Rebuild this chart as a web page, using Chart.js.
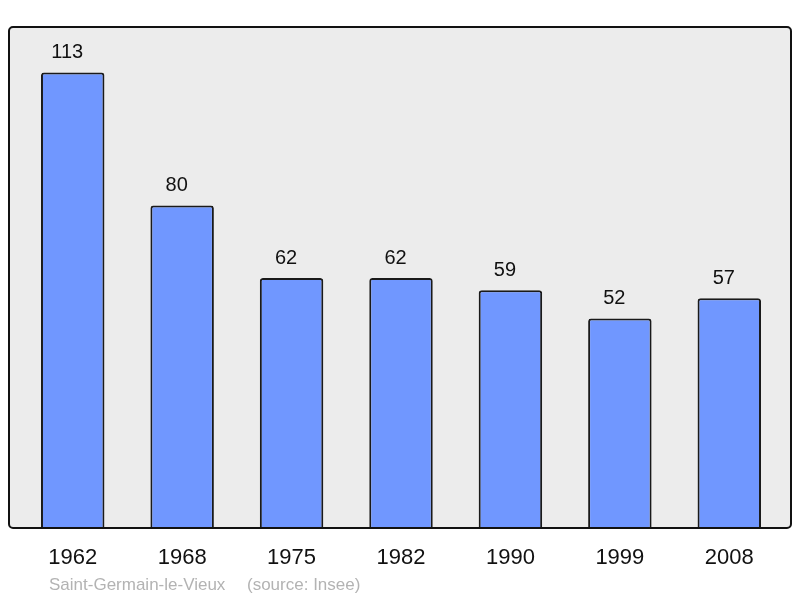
<!DOCTYPE html>
<html>
<head>
<meta charset="utf-8">
<script src="https://cdn.jsdelivr.net/npm/chart.js@4/dist/chart.umd.min.js"></script>
<style>
  html, body { margin: 0; padding: 0; background: #fff; }
  #wrap { width: 800px; height: 598px; }
</style>
</head>
<body>
<div id="wrap"><canvas id="popChart" width="800" height="598"></canvas></div>
<script>
// population data
var years = ["1962", "1968", "1975", "1982", "1990", "1999", "2008"];
var population = [113, 80, 62, 62, 59, 52, 57];
var yMax = 124.3;
var placeName = "Saint-Germain-le-Vieux";
var sourceText = "(source: Insee)";

var font = "'Liberation Sans', Arial, sans-serif";

// grey framed background behind the bars
var framePlugin = {
  id: 'frame',
  beforeDatasetsDraw: function(chart) {
    var a = chart.chartArea, ctx = chart.ctx;
    var l = a.left - 9, r = a.right + 7, t = a.top, b = a.bottom;
    ctx.save();
    ctx.beginPath();
    ctx.roundRect(l, t, r - l, b - t, 4);
    ctx.fillStyle = '#ececec';
    ctx.fill();
    ctx.restore();
  },
  afterDatasetsDraw: function(chart) {
    var a = chart.chartArea, ctx = chart.ctx;
    var l = a.left - 9, r = a.right + 7, t = a.top, b = a.bottom;
    ctx.save();
    ctx.beginPath();
    ctx.roundRect(l, t, r - l, b - t, 4);
    ctx.lineWidth = 2;
    ctx.strokeStyle = '#111';
    ctx.stroke();

    // value labels above bars
    var meta = chart.getDatasetMeta(0);
    ctx.fillStyle = '#111';
    ctx.textAlign = 'center';
    ctx.textBaseline = 'middle';
    ctx.font = "20px " + font;
    meta.data.forEach(function(bar, i) {
      ctx.fillText(String(population[i]), bar.x - 5.5, bar.y - 20);
    });

    // year labels
    var xs = chart.scales.x;
    ctx.font = "22px " + font;
    years.forEach(function(y, i) {
      ctx.fillText(y, xs.getPixelForValue(i), b + 30);
    });

    // footer
    ctx.textAlign = 'left';
    ctx.fillStyle = '#b3b3b3';
    ctx.font = "17px " + font;
    ctx.fillText(placeName, 49, b + 57);
    ctx.fillText(sourceText, 247, b + 57);
    ctx.restore();
  }
};

var ctx = document.getElementById('popChart').getContext('2d');
var chart = new Chart(ctx, {
  type: 'bar',
  data: {
    labels: years,
    datasets: [{
      data: population,
      backgroundColor: '#7097ff',
      borderColor: '#1a1a1a',
      borderWidth: 2,
      borderRadius: 3,
      borderSkipped: 'bottom',
      categoryPercentage: 1,
      barPercentage: 0.58
    }]
  },
  options: {
    responsive: false,
    animation: false,
    layout: { padding: { left: 18, right: 16, top: 27, bottom: 70 } },
    plugins: { legend: { display: false }, tooltip: { enabled: false } },
    scales: {
      x: { display: false, offset: true },
      y: { display: false, min: 0, max: yMax }
    }
  },
  plugins: [framePlugin]
});
</script>
</body>
</html>
